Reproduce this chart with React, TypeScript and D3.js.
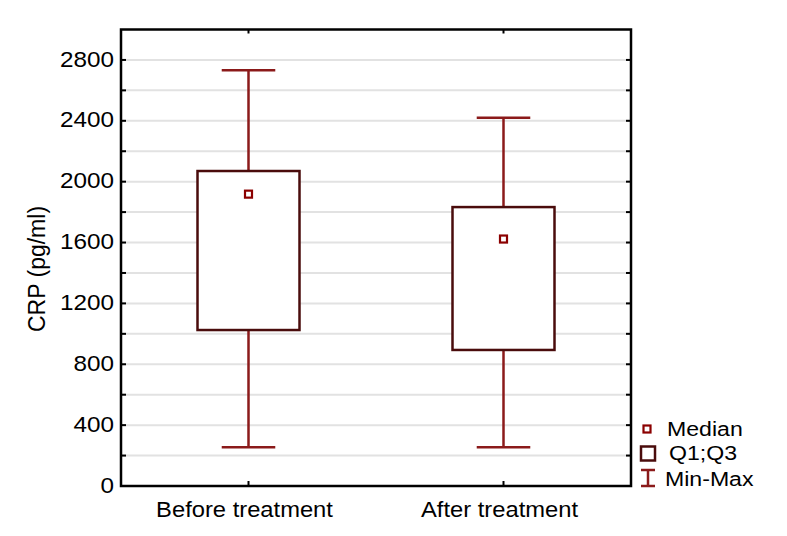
import React from "react";
import * as d3 from "d3";

const categories = ["Before treatment", "After treatment"];
const minValues = [255, 255];
const q1Values = [1025, 894];
const medianValues = [1918, 1623];
const q3Values = [2070, 1833];
const maxValues = [2733, 2420];
const yTickLabels = [0, 400, 800, 1200, 1600, 2000, 2400, 2800];
const gridValues = [200, 400, 600, 800, 1000, 1200, 1400, 1600, 1800, 2000, 2200, 2400, 2600, 2800];
const legendLabels = ["Median", "Q1;Q3", "Min-Max"];

const W = 787;
const H = 536;
const L = 121, R = 631, T = 29.5, B = 486;
const FONT = "'Liberation Sans', Arial, Helvetica, sans-serif";
const WHISKER = "#8b1a1a";
const BOXC = "#4a0c0c";
const MEDC = "#8b0000";

export default function App() {
  const y = d3.scaleLinear().domain([0, 3000]).range([B, T]);
  const x = d3.scaleBand<string>().domain(categories).range([L, R]).padding(0);
  const bw = x.bandwidth();
  const boxW = bw * 0.4;
  const capW = bw * 0.21;
  const sx = 1.08;

  return (
    <svg width={W} height={H} style={{ position: "absolute", left: 0, top: 0, background: "#fff" }} fontFamily={FONT}>
      <rect x={0} y={0} width={W} height={H} fill="#fff" />
      {gridValues.map((v) => (
        <line key={"g" + v} x1={L} x2={R} y1={y(v)} y2={y(v)} stroke="#e2e2e2" strokeWidth={2} />
      ))}
      {gridValues.map((v) => (
        <g key={"t" + v}>
          <line x1={L} x2={L + 5} y1={y(v)} y2={y(v)} stroke="#000" strokeWidth={2} />
          <line x1={R - 5} x2={R} y1={y(v)} y2={y(v)} stroke="#000" strokeWidth={2} />
        </g>
      ))}
      {categories.map((c) => {
        const cx = (x(c) as number) + bw / 2;
        return (
          <g key={"ct" + c}>
            <line x1={cx} x2={cx} y1={T} y2={T + 4} stroke="#000" strokeWidth={2} />
            <line x1={cx} x2={cx} y1={B - 5} y2={B} stroke="#000" strokeWidth={2} />
          </g>
        );
      })}
      {categories.map((c, i) => {
        const cx = (x(c) as number) + bw / 2;
        return (
          <g key={"b" + c}>
            <line x1={cx} x2={cx} y1={y(maxValues[i])} y2={y(q3Values[i])} stroke={WHISKER} strokeWidth={2.5} />
            <line x1={cx} x2={cx} y1={y(q1Values[i])} y2={y(minValues[i])} stroke={WHISKER} strokeWidth={2.5} />
            <line x1={cx - capW / 2} x2={cx + capW / 2} y1={y(maxValues[i])} y2={y(maxValues[i])} stroke={WHISKER} strokeWidth={2.5} />
            <line x1={cx - capW / 2} x2={cx + capW / 2} y1={y(minValues[i])} y2={y(minValues[i])} stroke={WHISKER} strokeWidth={2.5} />
            <rect x={cx - boxW / 2} y={y(q3Values[i])} width={boxW} height={y(q1Values[i]) - y(q3Values[i])} fill="#fff" stroke={BOXC} strokeWidth={2.5} />
            <rect x={cx - 3.5} y={y(medianValues[i]) - 3.5} width={7} height={7} fill="#fff" stroke={MEDC} strokeWidth={2.2} />
          </g>
        );
      })}
      <rect x={L} y={T} width={R - L} height={B - T} fill="none" stroke="#000" strokeWidth={2.5} />
      {yTickLabels.map((v) => (
        <text key={"yl" + v} transform={`translate(${L - 7},${y(v) - 1.5}) scale(${sx},1)`} dy="0.36em" textAnchor="end" fontSize={22.5} fill="#000">
          {v}
        </text>
      ))}
      {categories.map((c) => (
        <text key={"xl" + c} transform={`translate(${(x(c) as number) + bw / 2 - 4},${517}) scale(${sx},1)`} textAnchor="middle" fontSize={22} fill="#000">
          {c}
        </text>
      ))}
      <text transform={`translate(45,269) rotate(-90)`} textAnchor="middle" fontSize={23} fill="#000">
        CRP (pg/ml)
      </text>
      <g>
        <rect x={643.5} y={425.5} width={7} height={7} fill="#fff" stroke={MEDC} strokeWidth={2.2} />
        <text transform={`translate(667,436) scale(1.1,1)`} fontSize={21} fill="#000">{legendLabels[0]}</text>
        <rect x={641} y={446.5} width={14} height={14} fill="#fff" stroke={BOXC} strokeWidth={2.5} />
        <text transform={`translate(669,460) scale(1.1,1)`} fontSize={21} fill="#000">{legendLabels[1]}</text>
        <line x1={641} x2={655} y1={470} y2={470} stroke={WHISKER} strokeWidth={2.5} />
        <line x1={641} x2={655} y1={486} y2={486} stroke={WHISKER} strokeWidth={2.5} />
        <line x1={648} x2={648} y1={470} y2={486} stroke={WHISKER} strokeWidth={2.5} />
        <text transform={`translate(665,485.5) scale(1.1,1)`} fontSize={21} fill="#000">{legendLabels[2]}</text>
      </g>
    </svg>
  );
}
